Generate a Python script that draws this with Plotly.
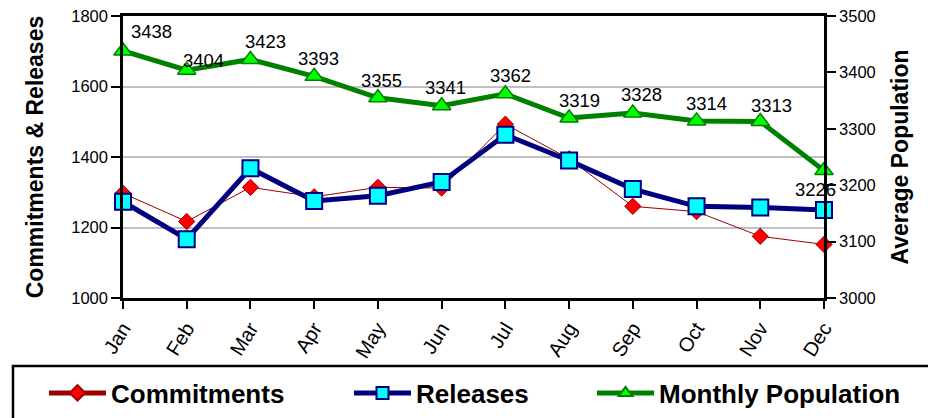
import plotly.graph_objects as go

months = ["Jan", "Feb", "Mar", "Apr", "May", "Jun", "Jul", "Aug", "Sep", "Oct", "Nov", "Dec"]
commitments = [1297, 1217, 1314, 1287, 1314, 1312, 1493, 1395, 1260, 1245, 1175, 1152]
releases = [1273, 1167, 1368, 1275, 1290, 1329, 1463, 1390, 1309, 1260, 1257, 1250]
population = [3438, 3404, 3423, 3393, 3355, 3341, 3362, 3319, 3328, 3314, 3313, 3226]

# label offsets (px) for the population data labels
lab_dx = [28, 17, 15, 4, 4, 4, 5, 10, 9, 10, 11, -9]
lab_dy = [19, 10, 18, 18, 17, 18, 18, 18, 19, 17, 16, -19]

L, R, T, B = 123, 104, 16, 120
W, H = 928, 418
PW, PH = W - L - R, H - T - B

def px_x(p):
    return (p - L) / PW

def px_y(p):
    return (H - B - p) / PH

fig = go.Figure()
fig.add_trace(go.Scatter(
    x=months, y=commitments, name="Commitments", mode="lines+markers",
    line=dict(color="#990000", width=1),
    marker=dict(symbol="diamond", size=12.5, color="#ff0000", line=dict(color="#990000", width=1)),
    cliponaxis=False, legend="legend",
))
fig.add_trace(go.Scatter(
    x=months, y=releases, name="Releases", mode="lines+markers",
    line=dict(color="#000080", width=5),
    marker=dict(symbol="square", size=16, color="#00ffff", line=dict(color="#000080", width=2)),
    cliponaxis=False, legend="legend2",
))
fig.add_trace(go.Scatter(
    x=months, y=population, name="Monthly Population", mode="lines+markers",
    line=dict(color="#008000", width=5),
    marker=dict(symbol="triangle-up", size=16, color="#00ff00", line=dict(color="#008000", width=1.5)),
    cliponaxis=False, yaxis="y2", legend="legend3",
))

for m, v, dx, dy in zip(months, population, lab_dx, lab_dy):
    fig.add_annotation(x=m, y=v, yref="y2", text=str(v), showarrow=False,
                       xshift=dx, yshift=dy,
                       font=dict(family="Liberation Sans Narrow, Arial Narrow, Liberation Sans, Arial", size=18.5, color="black"))

legend_common = dict(orientation="h", yanchor="middle", xanchor="left",
                     bgcolor="rgba(0,0,0,0)", borderwidth=0, itemwidth=57,
                     font=dict(family="Liberation Sans, Arial", size=26, color="black", weight="bold"),
                     itemsizing="constant")
ly = px_y(393)

fig.update_layout(
    width=W, height=H,
    margin=dict(l=L, r=R, t=T, b=B, autoexpand=False),
    paper_bgcolor="white", plot_bgcolor="white",
    font=dict(family="Liberation Sans, Arial", color="black"),
    showlegend=True,
    legend=dict(x=px_x(44), y=ly, **legend_common),
    legend2=dict(x=px_x(349), y=ly, **legend_common),
    legend3=dict(x=px_x(592), y=ly, **legend_common),
    xaxis=dict(type="category", range=[0, 11], showline=True, linecolor="black", linewidth=2.5,
               mirror=True, ticks="outside", ticklen=8, tickwidth=2, tickcolor="black",
               tickangle=-58, tickfont=dict(size=20, color="black"), showgrid=False, zeroline=False),
    yaxis=dict(range=[1000, 1800], dtick=200, showline=True, linecolor="black", linewidth=2.5,
               ticks="outside", ticklen=9, tickwidth=2, tickcolor="black",
               tickfont=dict(size=16.5, color="black"), showgrid=True, gridcolor="#c0c0c0", gridwidth=2,
               zeroline=False,
               title=dict(text="Commitments & Releases", font=dict(size=23, weight="bold", color="black"), standoff=22)),
    yaxis2=dict(range=[3000, 3500], dtick=100, overlaying="y", side="right", showline=True,
                linecolor="black", linewidth=2.5, ticks="outside", ticklen=9, tickwidth=2, tickcolor="black",
                tickfont=dict(size=16.5, color="black"), showgrid=False, zeroline=False,
                title=dict(text="Average Population", font=dict(size=23, weight="bold", color="black"), standoff=18)),
    shapes=[dict(type="rect", xref="paper", yref="paper", x0=px_x(13), x1=px_x(960),
                 y0=px_y(366), y1=px_y(460), line=dict(color="black", width=2.5), fillcolor="rgba(0,0,0,0)", layer="above")],
)

fig.write_html("out.html")
